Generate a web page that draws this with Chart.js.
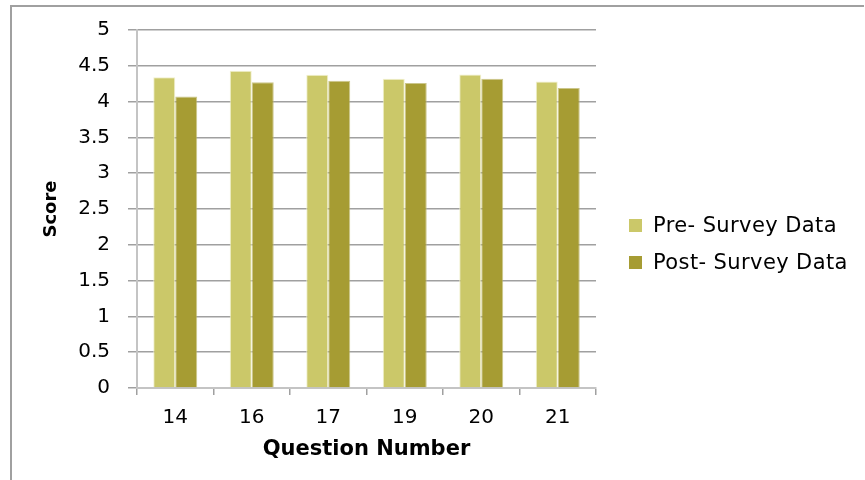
<!DOCTYPE html>
<html>
<head>
<meta charset="utf-8">
<script src="https://cdn.jsdelivr.net/npm/chart.js@4.4.1/dist/chart.umd.min.js"></script>
<style>
    html, body { margin: 0; padding: 0; background: #fff; }
    #wrap { position: relative; width: 865px; height: 480px; overflow: hidden; }
    #frame {
        position: absolute; left: 10px; top: 5px; width: 854px; height: 480px;
        border-top: 2px solid #a0a0a0; border-left: 2px solid #a0a0a0;
        box-sizing: border-box;
    }
    #chart { position: absolute; left: 0; top: 0; }
    .legend { position: absolute; left: 629px; font-family: "DejaVu Sans", sans-serif; font-size: 21px; letter-spacing: 0.4px; color: #000; }
    .legend span.box { display: inline-block; width: 13px; height: 13px; margin-right: 11px; vertical-align: 0px; }
</style>
</head>
<body>
<div id="wrap">
    <div id="frame"></div>
    <canvas id="chart" width="865" height="480"></canvas>
    <div class="legend" style="top:213px"><span class="box" style="background:#cbc869"></span>Pre- Survey Data</div>
    <div class="legend" style="top:250px"><span class="box" style="background:#a69c33"></span>Post- Survey Data</div>
</div>
<script>
// question numbers and mean scores
const questions = ['14', '16', '17', '19', '20', '21'];
const preSurvey = [4.34, 4.43, 4.375, 4.32, 4.38, 4.28];
const postSurvey = [4.07, 4.27, 4.29, 4.26, 4.32, 4.19];

const ctx = document.getElementById('chart').getContext('2d');
new Chart(ctx, {
    type: 'bar',
    data: {
        labels: questions,
        datasets: [
            {
                label: 'Pre- Survey Data',
                data: preSurvey,
                backgroundColor: '#cbc869',
                borderColor: 'rgba(240, 238, 200, 0.9)',
                borderWidth: 1,
                categoryPercentage: 0.575,
                barPercentage: 1.0
            },
            {
                label: 'Post- Survey Data',
                data: postSurvey,
                backgroundColor: '#a69c33',
                borderColor: 'rgba(190, 184, 110, 0.8)',
                borderWidth: 1,
                categoryPercentage: 0.575,
                barPercentage: 1.0
            }
        ]
    },
    options: {
        responsive: false,
        animation: false,
        layout: { padding: { left: 10, right: 269, top: 28, bottom: 0 } },
        plugins: {
            legend: { display: false },
            tooltip: { enabled: false }
        },
        scales: {
            x: {
                afterFit: (scale) => { scale.height = 92; },
                grid: {
                    drawOnChartArea: false,
                    color: '#a0a0a0',
                    lineWidth: 1.5,
                    tickLength: 7
                },
                border: { color: '#c4c4c4', width: 2 },
                ticks: {
                    color: '#000',
                    padding: 11,
                    font: { family: 'DejaVu Sans', size: 20 }
                },
                title: {
                    display: true,
                    text: 'Question Number',
                    color: '#000',
                    padding: { top: 0, bottom: 18 },
                    font: { family: 'DejaVu Sans', size: 21, weight: 'bold' }
                }
            },
            y: {
                min: 0,
                max: 5,
                afterFit: (scale) => { scale.width = 127; },
                grid: {
                    color: '#a0a0a0',
                    lineWidth: 1.5,
                    tickLength: 9
                },
                border: { color: '#c4c4c4', width: 2 },
                ticks: {
                    stepSize: 0.5,
                    color: '#000',
                    padding: 18,
                    font: { family: 'DejaVu Sans', size: 20 },
                    callback: (v) => String(v)
                },
                title: {
                    display: true,
                    text: 'Score',
                    color: '#000',
                    padding: { top: 31, bottom: 0 },
                    font: { family: 'DejaVu Sans', size: 18, weight: 'bold' }
                }
            }
        }
    }
});
</script>
</body>
</html>
